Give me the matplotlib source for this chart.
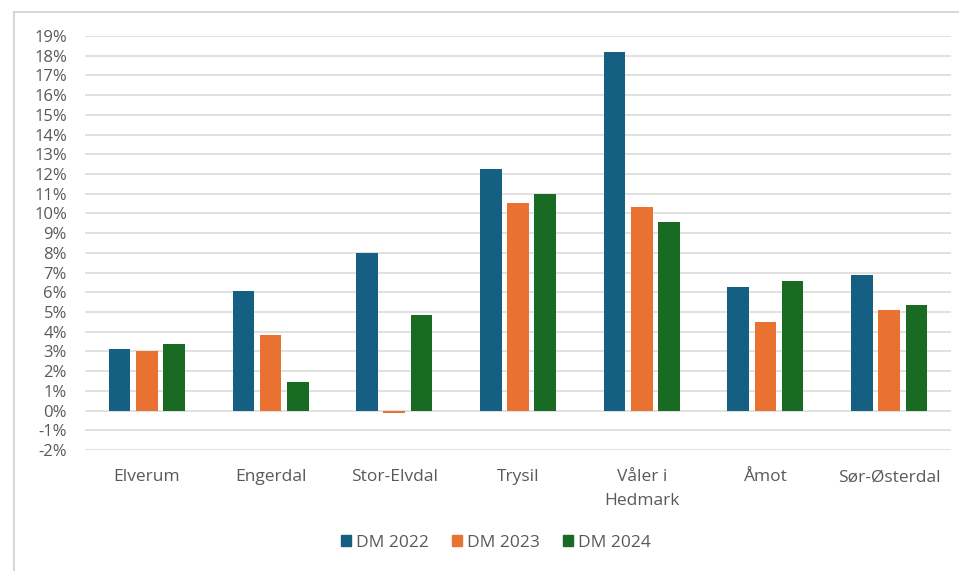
import matplotlib
matplotlib.use("Agg")
import matplotlib.pyplot as plt
from matplotlib.lines import Line2D
import numpy as np

categories = ["Elverum", "Engerdal", "Stor-Elvdal", "Trysil", "Våler i\nHedmark", "Åmot", "Sør-Østerdal"]
series_names = ["DM 2022", "DM 2023", "DM 2024"]
dm_2022 = [3.13, 6.09, 8.0, 12.23, 18.17, 6.28, 6.9]
dm_2023 = [3.01, 3.82, -0.12, 10.54, 10.32, 4.5, 5.08]
dm_2024 = [3.37, 1.44, 4.86, 11.0, 9.59, 6.55, 5.38]
y_ticks = list(range(-2, 20))

colors = ["#156082", "#E97132", "#196B24"]
text_color = "#595959"
plt.rcParams["font.family"] = ["Open Sans", "DejaVu Sans"]

fig = plt.figure(figsize=(9.59, 5.71), dpi=100)
ax = fig.add_axes([85 / 959, 1 - 450 / 571, (951 - 85) / 959, (450 - 36) / 571])

x = np.arange(len(categories))
width = 0.175
offset = 0.22
for i, (vals, name) in enumerate(zip([dm_2022, dm_2023, dm_2024], series_names)):
    ax.bar(x + (i - 1) * offset, vals, width=width, color=colors[i], label=name, zorder=3)

ax.set_xlim(-0.5, len(categories) - 0.5)
ax.set_ylim(-2, 19)
ax.set_yticks(y_ticks)
ax.set_yticklabels([f"{t}%" for t in y_ticks])
ax.set_xticks(x)
ax.set_xticklabels(categories, ha="center", linespacing=1.65)
ax.tick_params(axis="y", length=0, pad=13, labelsize=12, labelcolor=text_color)
ax.tick_params(axis="x", length=0, pad=14, labelsize=12.5, labelcolor=text_color)
ax.grid(axis="y", color="#d9d9d9", linewidth=1.1, zorder=0)
for s in ax.spines.values():
    s.set_visible(False)

handles = [plt.Rectangle((0, 0), 1, 1, color=c) for c in colors]
fig.legend(handles, series_names, loc="center", bbox_to_anchor=(496 / 959, 1 - 543 / 571),
           ncol=3, frameon=False, fontsize=12.5, labelcolor=text_color,
           handlelength=0.6, handleheight=0.6, handletextpad=0.3, columnspacing=1.3)

# outer chart frame
fig.add_artist(Line2D([14 / 959, 14 / 959], [0, 1 - 12 / 571], transform=fig.transFigure,
                      color="#d0d0d0", linewidth=1.2))
fig.add_artist(Line2D([14 / 959, 1], [1 - 12 / 571, 1 - 12 / 571], transform=fig.transFigure,
                      color="#d0d0d0", linewidth=1.2))

fig.savefig("out.png", dpi=100, facecolor="white")
